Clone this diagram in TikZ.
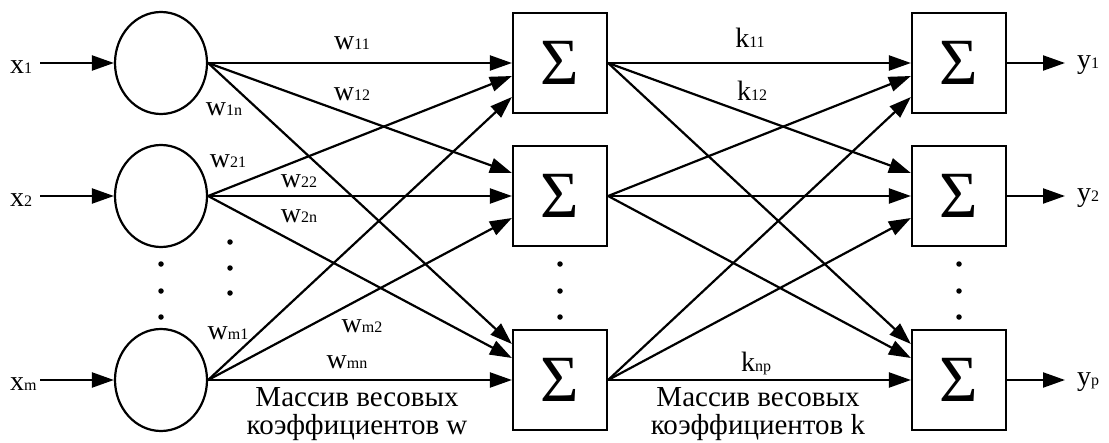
\documentclass[tikz,border=0pt]{standalone}
\usepackage{fontspec}
\setmainfont{Liberation Serif}
\usetikzlibrary{arrows.meta,shapes.geometric,calc}
\newcommand{\lsub}[1]{{\fontsize{16}{16}\selectfont #1}}

\begin{document}
\begin{tikzpicture}[x=1pt,y=1pt,yscale=-1,
  neuron/.style={draw, ellipse, line width=2.2pt, minimum width=92pt, minimum height=102pt, inner sep=0pt},
  sumbox/.style={draw, rectangle, line width=2.2pt, minimum width=94pt, minimum height=100pt, inner sep=0pt, font=\fontsize{66}{66}\selectfont},
  link/.style={line width=2.2pt, -{Triangle[length=22pt,width=15pt]}},
  lbl/.style={inner sep=0pt, anchor=base, font=\fontsize{28}{28}\selectfont},
  note/.style={inner sep=0pt, anchor=north, align=center, font=\fontsize{29}{28}\selectfont},
  dot/.style={circle, fill, inner sep=0pt, minimum size=5.5pt}]
  \useasboundingbox (0,0) rectangle (1109,442);

  %Shape: input neurons
  \node[neuron] (n1) at (161,63) {};
  \node[neuron] (n2) at (161,196) {};
  \node[neuron] (nm) at (161,380) {};
  %Shape: hidden sums
  \node[sumbox] (s1) at (560,63) {Σ};
  \node[sumbox] (s2) at (560,196) {Σ};
  \node[sumbox] (sn) at (560,380) {Σ};
  %Shape: output sums
  \node[sumbox] (o1) at (959,63) {Σ};
  \node[sumbox] (o2) at (959,196) {Σ};
  \node[sumbox] (op) at (959,380) {Σ};

  %Straight Lines: inputs and outputs
  \coordinate (i1) at (40,63);
  \coordinate (i2) at (40,196);
  \coordinate (im) at (40,380);
  \coordinate (e1) at (1065,63);
  \coordinate (e2) at (1065,196);
  \coordinate (ep) at (1065,380);
  \foreach \a/\b in {i1/n1, i2/n2, im/nm, o1/e1, o2/e2, op/ep}
    \draw[link] (\a) -- (\b);

  %Straight Lines: weights w
  \foreach \src/\dst/\dy in {n1/s1/0, n2/s1/13, nm/s1/34, n1/s2/-23, n2/s2/0, nm/s2/22, n1/sn/-36, n2/sn/-22, nm/sn/0}
    \draw[link] (\src.east) -- ($(\dst.west)+(0,\dy)$);
  %Straight Lines: weights k
  \foreach \src/\dst/\dy in {s1/o1/0, s2/o1/13, sn/o1/34, s1/o2/-23, s2/o2/0, sn/o2/22, s1/op/-36, s2/op/-22, sn/op/0}
    \draw[link] (\src.east) -- ($(\dst.west)+(0,\dy)$);

  %Shape: dots
  \foreach \y in {264,291,317} {
    \node[dot] at (161,\y) {};
    \node[dot] at (560,\y) {};
    \node[dot] at (959,\y) {};
  }
  \foreach \y in {242,268,293}
    \node[dot] at (230,\y) {};

  % Text Node
  \node[lbl, anchor=base west] (x1) at (10,73) {x\lsub{1}};
  \node[lbl, anchor=base west] (x2) at (10,206) {x\lsub{2}};
  \node[lbl, anchor=base west] (xm) at (10,390) {x\lsub{m}};
  \node[lbl, anchor=base west] (y1) at (1077,68) {y\lsub{1}};
  \node[lbl, anchor=base west] (y2) at (1077,201) {y\lsub{2}};
  \node[lbl, anchor=base west] (yp) at (1077,385) {y\lsub{p}};
  % Text Node
  \node[lbl] (w11) at (352,49) {w\lsub{11}};
  \node[lbl] (w12) at (352,100) {w\lsub{12}};
  \node[lbl] (w1n) at (224,115) {w\lsub{1n}};
  \node[lbl] (w21) at (228,167) {w\lsub{21}};
  \node[lbl] (w22) at (299,187) {w\lsub{22}};
  \node[lbl] (w2n) at (299,222) {w\lsub{2n}};
  \node[lbl] (wm1) at (228,339) {w\lsub{m1}};
  \node[lbl] (wm2) at (362,332) {w\lsub{m2}};
  \node[lbl] (wmn) at (347,368) {w\lsub{mn}};
  % Text Node
  \node[lbl] (k11) at (750,47) {k\lsub{11}};
  \node[lbl] (k12) at (752,100) {k\lsub{12}};
  \node[lbl] (knp) at (756,371) {k\lsub{np}};
  % Text Node
  \node[note] (arrw) at (357,387) {Массив весовых\\коэффициентов w};
  \node[note] (arrk) at (758,387) {Массив весовых\\коэффициентов k};
\end{tikzpicture}
\end{document}
